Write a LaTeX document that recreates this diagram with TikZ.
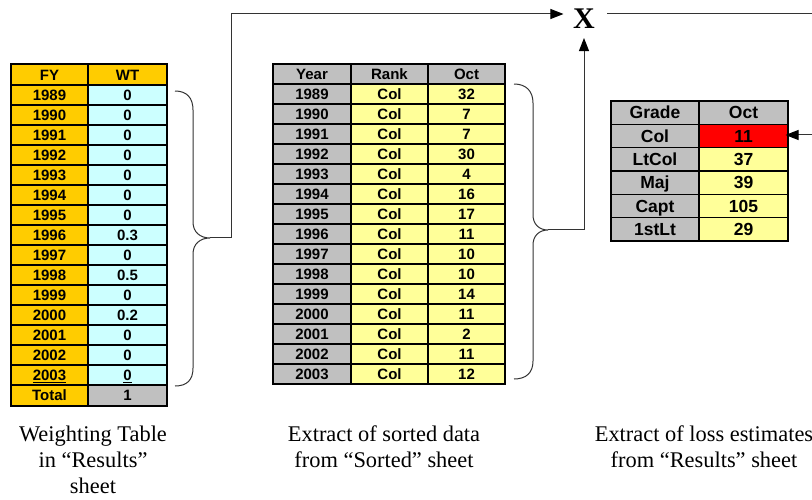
\documentclass[tikz,border=0pt]{standalone}
\usepackage{fontspec}
\setmainfont{Liberation Serif}
\setsansfont{Liberation Sans}
\usetikzlibrary{arrows.meta}

\definecolor{gold}{HTML}{FFCC00}
\definecolor{paleCyan}{HTML}{CCFFFF}
\definecolor{paleYellow}{HTML}{FFFF99}
\definecolor{cellGray}{HTML}{C0C0C0}
\definecolor{wireGray}{HTML}{333333}
\definecolor{alarmRed}{HTML}{FF0000}

% one spreadsheet cell: name, x1, y1, x2, y2, fill, text
\newcommand\tabcell[7]{%
  \node[cell,fill=#6,minimum width={#4-#2},minimum height={#5-#3}]
    (#1) at ({(#2+#4)/2},{(#3+#5)/2}) {#7};}

\begin{document}
\begin{tikzpicture}[x=1pt,y=-1pt,
  cell/.style={rectangle,draw=black,line width=1.2pt,inner sep=0pt,outer sep=0pt,text depth=0pt},
  cellS/.style={font=\sffamily\bfseries\fontsize{15}{16}\selectfont,text height=10.7pt},
  cellL/.style={font=\sffamily\bfseries\fontsize{17.5}{20}\selectfont,text height=12.5pt},
  conn/.style={draw=wireGray,line width=1pt},
  headarrow/.style={-{Triangle[length=13pt,width=10pt,color=black]}},
  capt/.style={font=\fontsize{22.4}{25.7}\selectfont,align=center,inner sep=0pt},
  border/.style={line width=2pt}]
\useasboundingbox (0,0) rectangle (812,500);

% ---- weighting table ----
\begin{scope}[cellS]
\tabcell{t1hA}{11}{64.5}{88}{85}{gold}{FY}
\tabcell{t1hB}{88}{64.5}{167}{85}{gold}{WT}
\foreach \yr/\wt [count=\i from 0] in {1989/0,1990/0,1991/0,1992/0,1993/0,1994/0,1995/0,1996/0.3,1997/0,1998/0.5,1999/0,2000/0.2,2001/0,2002/0,{\underline{2003}}/{\underline{0}}} {
  \pgfmathsetmacro\ya{85+20*\i}
  \pgfmathsetmacro\yb{\ya+20}
  \tabcell{t1y\i}{11}{\ya}{88}{\yb}{gold}{\yr}
  \tabcell{t1w\i}{88}{\ya}{167}{\yb}{paleCyan}{\wt}
}
\tabcell{t1tA}{11}{385}{88}{406}{gold}{Total}
\tabcell{t1tB}{88}{385}{167}{406}{cellGray}{1}
\end{scope}
\draw[border] (t1hA.north west) rectangle (t1tB.south east);
\draw[border] (t1hA.south west) -- (t1hB.south east);
\draw[border] (t1tA.north west) -- (t1tB.north east);

% ---- sorted data ----
\begin{scope}[cellS]
\tabcell{t2hA}{273}{64}{351}{84}{cellGray}{Year}
\tabcell{t2hB}{351}{64}{428}{84}{cellGray}{Rank}
\tabcell{t2hC}{428}{64}{505}{84}{cellGray}{Oct}
\foreach \oc [count=\i from 0] in {32,7,7,30,4,16,17,11,10,10,14,11,2,11,12} {
  \pgfmathsetmacro\ya{84+20*\i}
  \pgfmathsetmacro\yb{\ya+20}
  \pgfmathtruncatemacro\yr{1989+\i}
  \tabcell{t2y\i}{273}{\ya}{351}{\yb}{cellGray}{\yr}
  \tabcell{t2r\i}{351}{\ya}{428}{\yb}{paleYellow}{Col}
  \tabcell{t2o\i}{428}{\ya}{505}{\yb}{paleYellow}{\oc}
}
\end{scope}
\draw[border] (t2hA.north west) rectangle (t2o14.south east);
\draw[border] (t2hA.south west) -- (t2hC.south east);

% ---- loss estimates ----
\begin{scope}[cellL,every node/.append style={line width=1.5pt}]
\tabcell{t3hA}{611}{101}{699}{124.3}{cellGray}{Grade}
\tabcell{t3hB}{699}{101}{788}{124.3}{cellGray}{Oct}
\foreach \gr/\ov/\fc [count=\i from 0] in {Col/11/alarmRed,LtCol/37/paleYellow,Maj/39/paleYellow,Capt/105/paleYellow,1stLt/29/paleYellow} {
  \pgfmathsetmacro\ya{124.33+23.33*\i}
  \pgfmathsetmacro\yb{\ya+23.33}
  \tabcell{t3g\i}{611}{\ya}{699}{\yb}{cellGray}{\gr}
  \tabcell{t3v\i}{699}{\ya}{788}{\yb}{\fc}{\ov}
}
\end{scope}
\draw[border] (t3hA.north west) rectangle (t3v4.south east);

% ---- braces ----
\draw[conn] (175,91) .. controls (187,91) and (193,98) .. (193,110) -- (193,222)
  .. controls (193,232) and (200,238) .. (210,238)
  .. controls (200,238) and (193,244) .. (193,254) -- (193,368)
  .. controls (193,380) and (187,386) .. (175,386);
\coordinate (b1) at (210,238);
\draw[conn] (514,84) .. controls (526,84) and (533,91) .. (533,103) -- (533,215)
  .. controls (533,224) and (539,230) .. (548,230)
  .. controls (539,230) and (533,236) .. (533,245) -- (533,361)
  .. controls (533,373) and (526,379) .. (514,379);
\coordinate (b2) at (548,230);

% ---- product node and connectors ----
\node[font=\bfseries\fontsize{30}{31}\selectfont,inner sep=9.5pt] (X) at (584,18.5) {X};
\coordinate (outR) at (812,14);
\coordinate (inR) at (812,135);
\draw[conn,headarrow] (b1) -- ++(21,0) |- ([yshift=4.5pt]X.west);
\draw[conn,headarrow] (b2) -| (X.south);
\draw[conn,shorten <=2.5pt] ([yshift=4.5pt]X.east) -- (outR);
\draw[conn,headarrow,shorten >=-2.5pt] (inR) -- (inR -| t3v0.east);

% ---- captions (anchored at the baseline of their last line) ----
\node[capt,anchor=base] (capA) at (93,493.1) {Weighting Table\\in “Results”\\sheet};
\node[capt,anchor=base] (capB) at (384,467.4) {Extract of sorted data\\from “Sorted” sheet};
\node[capt,anchor=base] (capC) at (704,467.4) {Extract of loss estimates\\from “Results” sheet};
\end{tikzpicture}
\end{document}
